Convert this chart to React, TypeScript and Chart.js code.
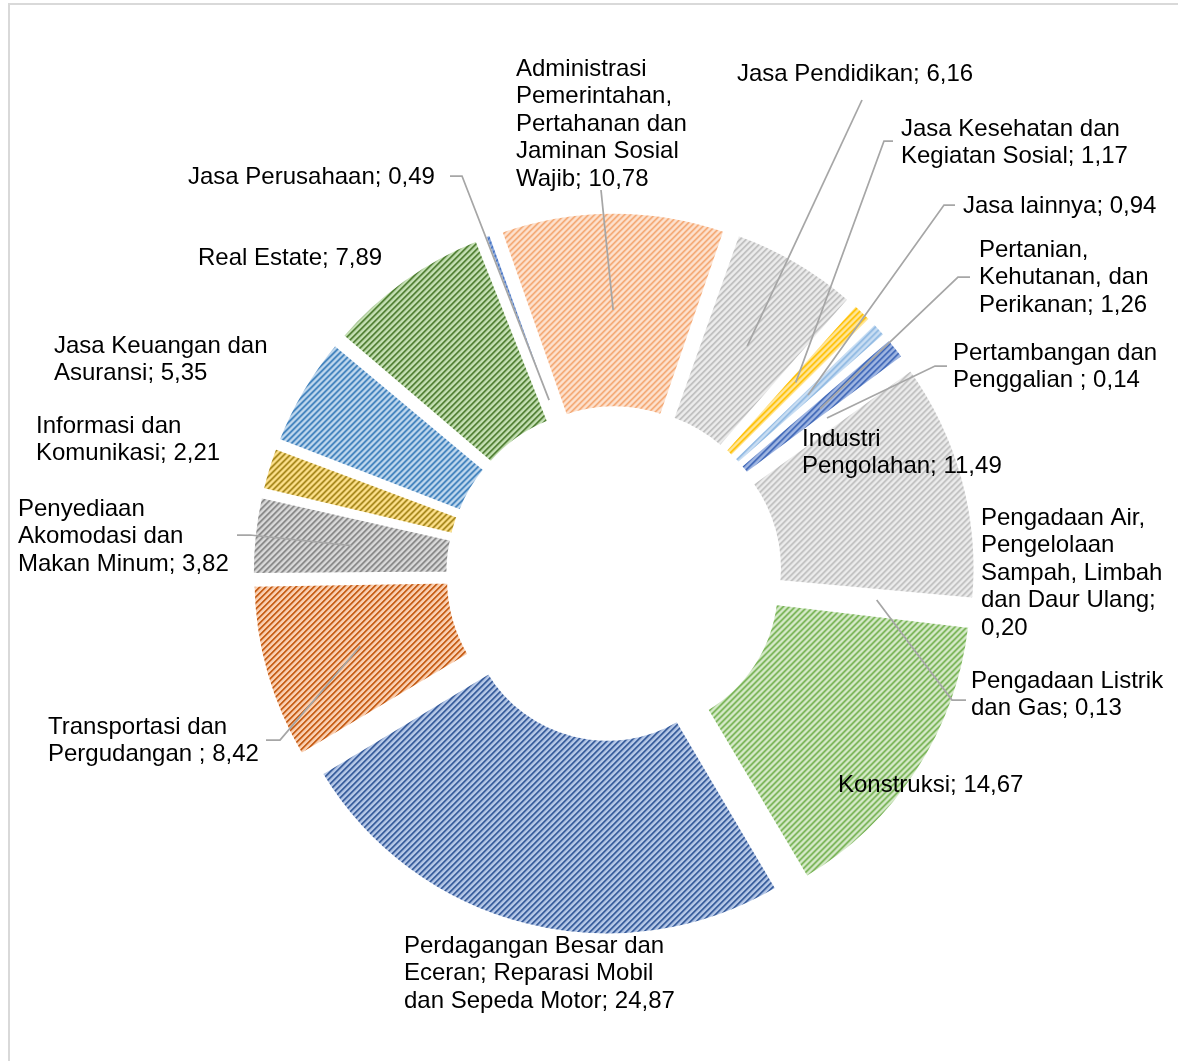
import React, { useEffect, useRef } from 'react';
import { Chart, registerables } from 'chart.js';

Chart.register(...registerables);

// ---------------- DATA ----------------
const categories: string[] = [
  'Pertanian, Kehutanan, dan Perikanan',
  'Pertambangan dan Penggalian ',
  'Industri Pengolahan',
  'Pengadaan Listrik dan Gas',
  'Pengadaan Air, Pengelolaan Sampah, Limbah dan Daur Ulang',
  'Konstruksi',
  'Perdagangan Besar dan Eceran; Reparasi Mobil dan Sepeda Motor',
  'Transportasi dan Pergudangan ',
  'Penyediaan Akomodasi dan Makan Minum',
  'Informasi dan Komunikasi',
  'Jasa Keuangan dan Asuransi',
  'Real Estate',
  'Jasa Perusahaan',
  'Administrasi Pemerintahan, Pertahanan dan Jaminan Sosial Wajib',
  'Jasa Pendidikan',
  'Jasa Kesehatan dan Kegiatan Sosial',
  'Jasa lainnya',
];

const values: number[] = [
  1.26, 0.14, 11.49, 0.13, 0.2, 14.67, 24.87, 8.42, 3.82, 2.21, 5.35, 7.89, 0.49, 10.78, 6.16, 1.17, 0.94,
];

// ---------------- STYLE ----------------
const lightColors: string[] = [
  '#9fb6e2', '#d9d9d9', '#ececec', '#c9ddf2', '#c9ddf2', '#d8ebcc', '#b7c9e8', '#fad0b2',
  '#dadada', '#ffe38f', '#c3daef', '#c5e0b4', '#8eaadb', '#fde2cf', '#ececec', '#ffe699', '#c9def3',
];
const darkColors: string[] = [
  '#3e67b8', '#a5a5a5', '#bdbdbd', '#8db7e2', '#8db7e2', '#6fae4a', '#2f5597', '#c55a11',
  '#7f7f7f', '#9c7c0c', '#2e75b6', '#4a7a2c', '#4472c4', '#f4a872', '#bdbdbd', '#ffc000', '#8db7e2',
];

const EXPLODE = 28; // outward shift of each slice, px
const BORDER = 3.5;
const FONT_SIZE = 24;
const LINE_H = 27.6;

// label placement (left x, first line center y) and wrap width
const labelX: number[] = [979, 953, 802, 971, 981, 838, 404, 48, 18, 36, 54, 198, 188, 516, 737, 901, 963];
const labelY: number[] = [250, 353, 439, 681, 518, 785, 946, 727, 509, 426, 346, 258, 177, 69, 74, 129, 206];
const wrapW: number[] = [185, 210, 210, 200, 190, 300, 280, 220, 225, 200, 225, 300, 300, 180, 300, 240, 300];

// leader line label-side points; the slice-side end is computed from the arc
const leaderPts: (number[][] | null)[] = [
  [[970, 277], [958, 277]],
  [[947, 366], [935, 366]],
  null,
  [[966, 700], [952, 700]],
  null,
  null,
  null,
  [[266, 740], [280, 740]],
  [[237, 535], [250, 535]],
  null,
  null,
  null,
  [[450, 176], [462, 176]],
  [[601, 190]],
  [[862, 100]],
  [[893, 141], [884, 141]],
  [[955, 205], [944, 205]],
];
const leaderRadiusFrac: number[] = [0.5, 0.5, 0.5, 0.5, 0.5, 0.5, 0.5, 0.5, 0.5, 0.5, 0.5, 0.5, 0.1, 0.5, 0.5, 0.5, 0.5];

function fmt(v: number): string {
  return v.toFixed(2).replace('.', ',');
}

function makePattern(light: string, dark: string): CanvasPattern | string {
  const size = 6;
  const c = document.createElement('canvas');
  c.width = size;
  c.height = size;
  const g = c.getContext('2d');
  if (!g) return light;
  g.fillStyle = light;
  g.fillRect(0, 0, size, size);
  for (let y = 0; y < size; y++) {
    for (let x = 0; x < size; x++) {
      const k = (x + y) % size;
      if (k === 0 || k === 1) {
        g.globalAlpha = 1;
        g.fillStyle = dark;
        g.fillRect(x, y, 1, 1);
      } else if (k === 2) {
        g.globalAlpha = 0.4;
        g.fillStyle = dark;
        g.fillRect(x, y, 1, 1);
      }
    }
  }
  g.globalAlpha = 1;
  const p = g.createPattern(c, 'repeat');
  return p || light;
}

function wrapText(ctx: CanvasRenderingContext2D, text: string, maxW: number): string[] {
  const words = text.split(' ');
  const lines: string[] = [];
  let cur = '';
  for (const w of words) {
    const test = cur ? cur + ' ' + w : w;
    if (cur && ctx.measureText(test).width > maxW) {
      lines.push(cur);
      cur = w;
    } else {
      cur = test;
    }
  }
  if (cur) lines.push(cur);
  return lines;
}

// Chart.js moves an arc by offset/4 and grows its radii by offset/4*(1-sin(angle)).
// Choose per-slice offset so every slice moves out by about EXPLODE px.
function fixOf(angle: number): number {
  return 1 - Math.sin(Math.min(Math.PI, angle));
}
const total = values.reduce((a, b) => a + b, 0);
const sliceOffsets = values.map((v) => (4 * EXPLODE) / (1 + fixOf((v / total) * 2 * Math.PI)));

const labelPlugin = {
  id: 'excelLabels',
  afterDraw(chart: any) {
    const ctx: CanvasRenderingContext2D = chart.ctx;
    const meta = chart.getDatasetMeta(0);
    ctx.save();
    // leader lines
    ctx.strokeStyle = '#a6a6a6';
    ctx.lineWidth = 1.75;
    meta.data.forEach((el: any, i: number) => {
      const pts = leaderPts[i];
      if (!pts) return;
      const { x, y, startAngle, endAngle, innerRadius, outerRadius } = el.getProps(
        ['x', 'y', 'startAngle', 'endAngle', 'innerRadius', 'outerRadius'],
        true
      );
      const mid = (startAngle + endAngle) / 2;
      const o = sliceOffsets[i] / 4;
      const shift = o * (1 + fixOf(endAngle - startAngle));
      const r = innerRadius + (outerRadius - innerRadius) * leaderRadiusFrac[i] + shift;
      const ex = x + Math.cos(mid) * r;
      const ey = y + Math.sin(mid) * r;
      ctx.beginPath();
      ctx.moveTo(pts[0][0], pts[0][1]);
      for (let k = 1; k < pts.length; k++) ctx.lineTo(pts[k][0], pts[k][1]);
      ctx.lineTo(ex, ey);
      ctx.stroke();
    });
    // labels
    ctx.font = `${FONT_SIZE}px "Liberation Sans", Arial, sans-serif`;
    ctx.fillStyle = '#000000';
    ctx.textAlign = 'left';
    ctx.textBaseline = 'middle';
    categories.forEach((cat, i) => {
      const text = cat + '; ' + fmt(values[i]);
      const lines = wrapText(ctx, text, wrapW[i]);
      lines.forEach((ln, k) => {
        ctx.fillText(ln, labelX[i], labelY[i] + k * LINE_H);
      });
    });
    ctx.restore();
  },
};

export default function App() {
  const ref = useRef<HTMLCanvasElement | null>(null);

  useEffect(() => {
    const canvas = ref.current;
    if (!canvas) return;
    const patterns = values.map((_, i) => makePattern(lightColors[i], darkColors[i]));
    const chart = new Chart(canvas, {
      type: 'doughnut',
      data: {
        labels: categories,
        datasets: [
          {
            data: values,
            backgroundColor: patterns as any,
            borderColor: '#ffffff',
            borderWidth: BORDER,
            offset: sliceOffsets,
            hoverOffset: 0,
          } as any,
        ],
      },
      options: {
        responsive: false,
        animation: false,
        rotation: 49,
        radius: 334,
        cutout: '41.3%',
        events: [],
        layout: { padding: { left: 50, right: 0, top: 87, bottom: 0 } },
        plugins: {
          legend: { display: false },
          tooltip: { enabled: false },
        },
      } as any,
      plugins: [labelPlugin],
    });
    return () => chart.destroy();
  }, []);

  return (
    <div style={{ position: 'fixed', inset: 0, overflow: 'hidden', background: '#ffffff' }}>
      <div
        style={{
          position: 'absolute',
          left: 8,
          top: 3,
          width: 1400,
          height: 1400,
          borderLeft: '2px solid #d9d9d9',
          borderTop: '2px solid #d9d9d9',
        }}
      />
      <canvas
        ref={ref}
        width={1178}
        height={1061}
        style={{ position: 'absolute', left: 0, top: 0, width: 1178, height: 1061 }}
      />
    </div>
  );
}
